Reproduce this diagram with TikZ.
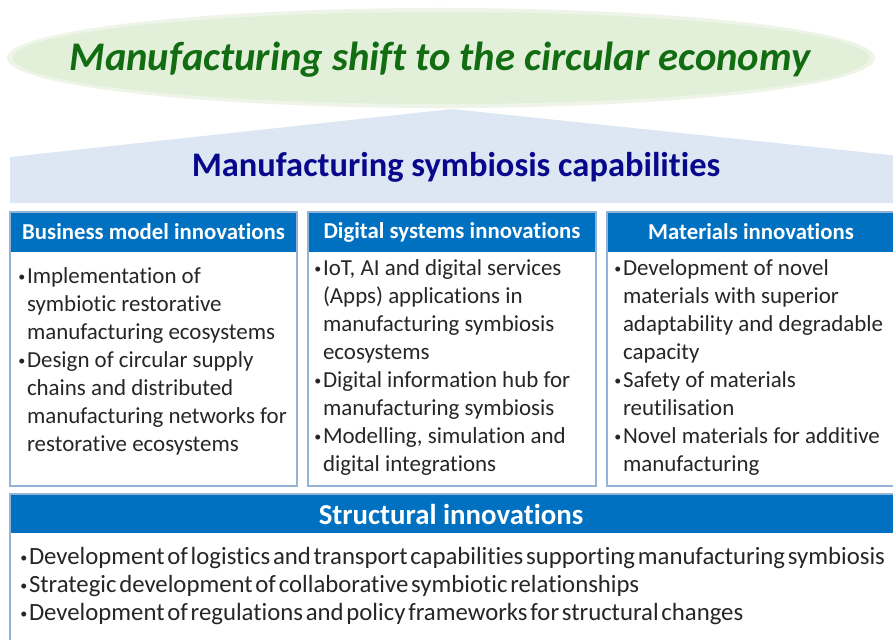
\documentclass[tikz,border=0pt]{standalone}
\usepackage{fontspec}
\setmainfont{Carlito}[Ligatures=NoCommon]
\newfontfamily\hepchu{Carlito}[Ligatures=NoCommon, WordSpace=0.5]

% Màu dùng trong hình
\definecolor{xanhdam}{RGB}{0,112,192}
\definecolor{vien}{RGB}{149,179,215}
\definecolor{nenxanh}{RGB}{221,231,243}
\definecolor{nenla}{RGB}{226,239,217}
\definecolor{chula}{RGB}{18,108,18}
\definecolor{chuxanh}{RGB}{8,8,140}
\definecolor{chu}{RGB}{38,38,38}

\tikzset{
  khung/.style={draw=vien, line width=1.3pt, fill=white},
  daukhung/.style={fill=xanhdam},
  tieudekhung/.style={text=white, inner sep=0pt, font=\bfseries\fontsize{16.2}{19.9}\selectfont},
  noidung/.style={text=chu, align=left, anchor=north west, inner sep=0pt,
    font=\fontsize{16.3}{19.9}\selectfont},
}
% dấu chấm đầu dòng nhỏ, nâng lên giữa dòng
\newcommand{\gach}{\makebox[6.2pt][l]{\raisebox{1.6pt}{\fontsize{10}{10}\selectfont\textbullet}}}
\newcommand{\lui}{\hspace*{6.2pt}}

\begin{document}
\begin{tikzpicture}[x=0.025cm, y=-0.025cm]
    \useasboundingbox (0,0) rectangle (893,639);

    % 1. Hình elip phía trên và tiêu đề
    \fill[nenla!60] (441,58) ellipse [x radius=10.85cm, y radius=1.25cm];
    \fill[nenla] (441,58) ellipse [x radius=10.7cm, y radius=1.15cm];
    \node[text=chula, font=\bfseries\itshape\fontsize{28.9}{34}\selectfont] (tieude) at (440,60)
        {Manufacturing shift to the circular economy};

    % 2. Mái nhà (hình ngũ giác) màu xanh nhạt
    \coordinate (T1) at (10,203);
    \coordinate (T2) at (10,157);
    \coordinate (T3) at (452,109);
    \coordinate (T4) at (900,156);
    \coordinate (T5) at (900,203);
    \fill[nenxanh] (T1) -- (T2) -- (T3) -- (T4) -- (T5) -- cycle;
    \node[text=chuxanh, font=\bfseries\fontsize{24.5}{29}\selectfont] (mai) at (456,167)
        {Manufacturing symbiosis capabilities};

    % 3. Ba khung cột
    \foreach \xa/\xb in {10/297, 308/596, 607/900} {
        \draw[khung] (\xa,212) rectangle (\xb,486);
        \fill[daukhung] (\xa,212) rectangle (\xb,252);
        \draw[vien, line width=1.3pt] (\xa,212) rectangle (\xb,486);
    }
    \node[tieudekhung] (dau1) at (153.5,232) {Business model innovations};
    \node[tieudekhung] (dau2) at (452,232) {Digital systems innovations};
    \node[tieudekhung] (dau3) at (751,232) {Materials innovations};

    \node[noidung] (nd1) at (18,267.4) {%
        \gach Implementation of\\
        \lui symbiotic restorative\\
        \lui manufacturing ecosystems\\
        \gach Design of circular supply\\
        \lui chains and distributed\\
        \lui manufacturing networks for\\
        \lui restorative ecosystems};
    \node[noidung] (nd2) at (314,259.6) {%
        \gach IoT, AI and digital services\\
        \lui (Apps) applications in\\
        \lui manufacturing symbiosis\\
        \lui ecosystems\\
        \gach Digital information hub for\\
        \lui manufacturing symbiosis\\
        \gach Modelling, simulation and\\
        \lui digital integrations};
    \node[noidung] (nd3) at (614,259.4) {%
        \gach Development of novel\\
        \lui materials with superior\\
        \lui adaptability and degradable\\
        \lui capacity\\
        \gach Safety of materials\\
        \lui reutilisation\\
        \gach Novel materials for additive\\
        \lui manufacturing};

    % 4. Khung dưới cùng
    \draw[khung] (10,494) rectangle (900,650);
    \fill[daukhung] (10,494) rectangle (900,533);
    \draw[vien, line width=1.3pt] (10,494) rectangle (900,650);
    \node[tieudekhung, font=\bfseries\fontsize{20.5}{24}\selectfont] (dau4) at (451,514)
        {Structural innovations};
    \node[noidung, font=\hepchu\fontsize{17.6}{19.9}\selectfont] (nd4) at (20,547.4) {%
        \gach Development of logistics and transport capabilities supporting manufacturing symbiosis\\
        \gach Strategic development of collaborative symbiotic relationships\\
        \gach Development of regulations and policy frameworks for structural changes};
\end{tikzpicture}
\end{document}
